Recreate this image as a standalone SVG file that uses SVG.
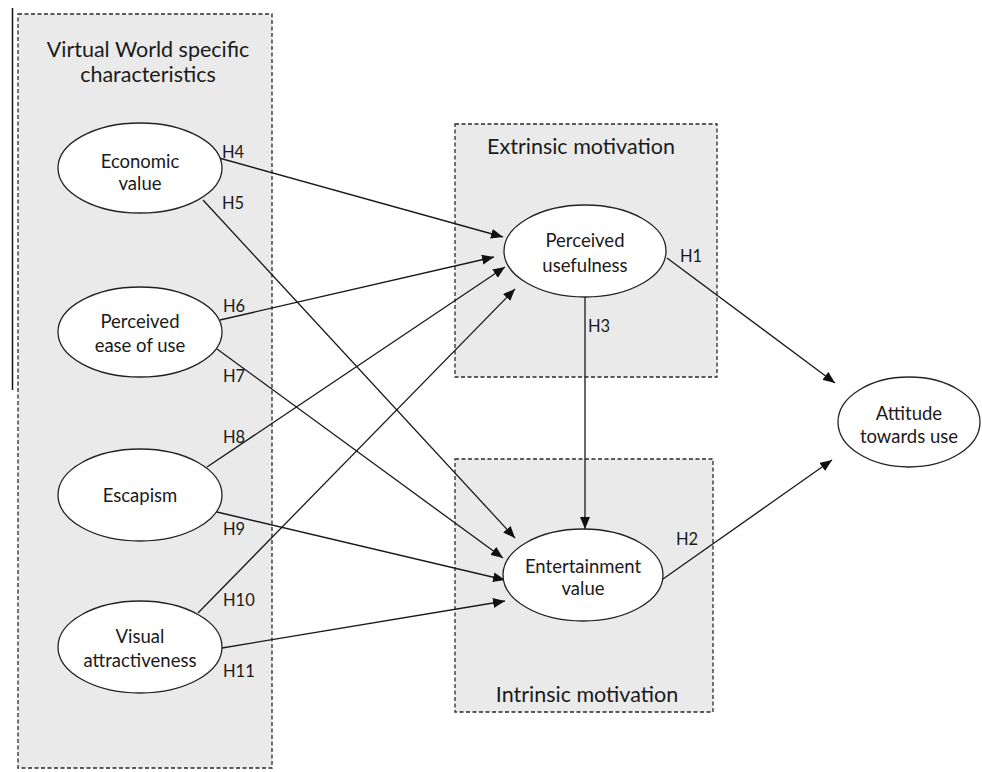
<svg xmlns="http://www.w3.org/2000/svg" width="982" height="772" viewBox="0 0 982 772">
<defs>
<style>
.box{fill:#eaeaea;stroke:#2a2a2a;stroke-width:1.3;stroke-dasharray:4 2.5}
.node ellipse{fill:#fff;stroke:#222;stroke-width:1.3}
.lbl{font-family:Lato,"Liberation Sans",sans-serif;font-size:18.5px;fill:#1a1a1a;text-anchor:middle}
.ttl{font-family:Lato,"Liberation Sans",sans-serif;font-size:21.5px;fill:#1a1a1a;text-anchor:middle}
.h{font-family:Lato,"Liberation Sans",sans-serif;font-size:16.5px;fill:#1a1a1a}
.edges line{stroke:#1a1a1a;stroke-width:1.3;marker-end:url(#arr)}
</style>
<marker id="arr" viewBox="0 0 12 10" refX="12" refY="5" markerWidth="12" markerHeight="10" markerUnits="userSpaceOnUse" orient="auto">
<path d="M0,0 L12,5 L0,10 Z" fill="#111"/>
</marker>
</defs>
<rect width="982" height="772" fill="#fff"/>
<line x1="12.5" y1="8" x2="12.5" y2="390" stroke="#111" stroke-width="1.5"/>
<g id="group-virtual-world">
<rect class="box" x="18" y="14" width="254" height="754"/>
<text class="ttl" x="148" y="57">Virtual World specific</text>
<text class="ttl" x="148" y="82">characteristics</text>
</g>
<g id="group-extrinsic">
<rect class="box" x="455" y="124" width="262" height="253"/>
<text class="ttl" x="581" y="154">Extrinsic motivation</text>
</g>
<g id="group-intrinsic">
<rect class="box" x="455" y="459" width="258" height="253"/>
<text class="ttl" x="587" y="702">Intrinsic motivation</text>
</g>
<g id="connectors" class="edges">
<line x1="219" y1="158" x2="503" y2="237"/>
<line x1="203" y1="200" x2="515" y2="538"/>
<line x1="220" y1="320" x2="494" y2="257"/>
<line x1="217" y1="349" x2="503" y2="558"/>
<line x1="207" y1="467" x2="505" y2="267"/>
<line x1="217" y1="512" x2="505" y2="580"/>
<line x1="198" y1="613" x2="515" y2="289"/>
<line x1="222" y1="648" x2="505" y2="601"/>
<line x1="667" y1="258" x2="835" y2="383"/>
<line x1="663" y1="579" x2="832" y2="460"/>
<line x1="585" y1="297" x2="585" y2="529"/>
</g>
<g id="hyp-labels">
<text class="h" x="222" y="158">H4</text>
<text class="h" x="222" y="209">H5</text>
<text class="h" x="223" y="312">H6</text>
<text class="h" x="223" y="382">H7</text>
<text class="h" x="223" y="443">H8</text>
<text class="h" x="223" y="535">H9</text>
<text class="h" x="223" y="606">H10</text>
<text class="h" x="223" y="677">H11</text>
<text class="h" x="680" y="262">H1</text>
<text class="h" x="588" y="332">H3</text>
<text class="h" x="676" y="545">H2</text>
</g>
<g id="node-economic-value" class="node">
<ellipse cx="140" cy="168" rx="82" ry="45"/>
<text class="lbl" x="140" y="168">Economic</text>
<text class="lbl" x="140" y="190">value</text>
</g>
<g id="node-perceived-ease" class="node">
<ellipse cx="140" cy="332" rx="82" ry="45"/>
<text class="lbl" x="140" y="328">Perceived</text>
<text class="lbl" x="140" y="352">ease of use</text>
</g>
<g id="node-escapism" class="node">
<ellipse cx="140" cy="495" rx="82" ry="46"/>
<text class="lbl" x="140" y="502">Escapism</text>
</g>
<g id="node-visual" class="node">
<ellipse cx="140" cy="647" rx="82" ry="46"/>
<text class="lbl" x="140" y="643">Visual</text>
<text class="lbl" x="140" y="667">attractiveness</text>
</g>
<g id="node-perceived-usefulness" class="node">
<ellipse cx="585" cy="251" rx="81" ry="46"/>
<text class="lbl" x="585" y="247">Perceived</text>
<text class="lbl" x="585" y="272">usefulness</text>
</g>
<g id="node-entertainment" class="node">
<ellipse cx="583" cy="575" rx="80" ry="46"/>
<text class="lbl" x="583" y="573">Entertainment</text>
<text class="lbl" x="583" y="595">value</text>
</g>
<g id="node-attitude" class="node">
<ellipse cx="909" cy="422" rx="71" ry="45"/>
<text class="lbl" x="909" y="420">Attitude</text>
<text class="lbl" x="909" y="443">towards use</text>
</g>
</svg>
